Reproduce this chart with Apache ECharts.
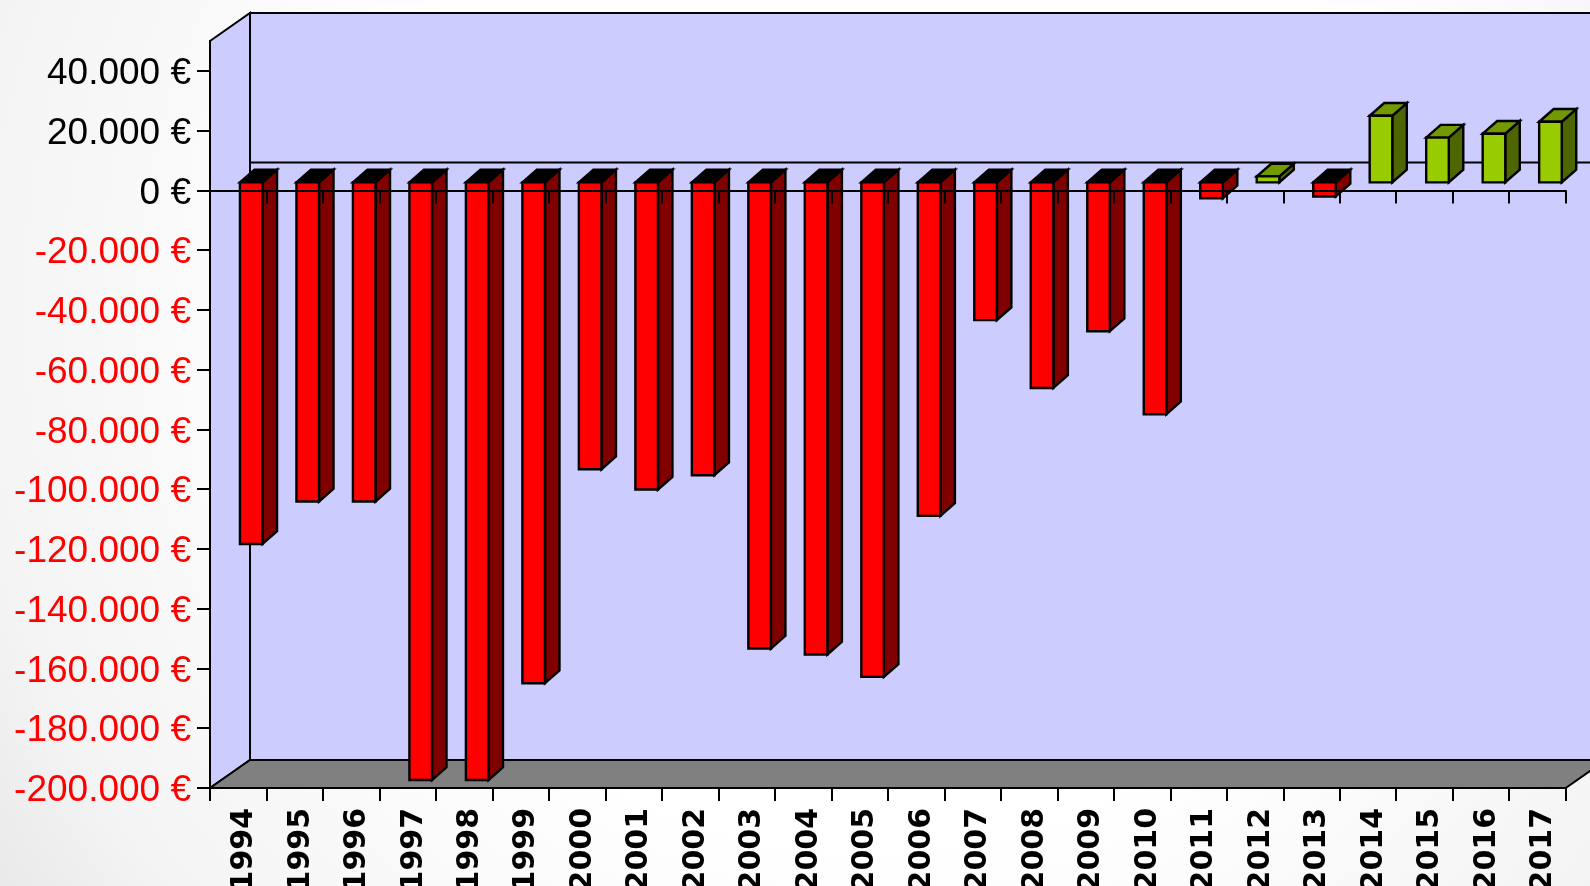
<!DOCTYPE html>
<html>
<head>
<meta charset="utf-8">
<script src="https://cdn.jsdelivr.net/npm/echarts@6/dist/echarts.min.js"></script>
<style>html,body{margin:0;padding:0;background:#fff;overflow:hidden}#c{width:1590px;height:886px}</style>
</head>
<body>
<div id="c"></div>
<script>
var years = ['1994','1995','1996','1997','1998','1999','2000','2001','2002','2003','2004','2005','2006','2007','2008','2009','2010','2011','2012','2013','2014','2015','2016','2017'];
var balance = [-121000,-106800,-106800,-200000,-200000,-167600,-96000,-102800,-98000,-156000,-158000,-165500,-111600,-46100,-68800,-49800,-77600,-5300,2000,-4700,22300,15000,16300,20300];
var yTicks = [-200000,-180000,-160000,-140000,-120000,-100000,-80000,-60000,-40000,-20000,0,20000,40000];

var wallDepth = [40,-28];   // depth of the chart box
var barOffset = [13,-8];    // bars stand this far behind the front plane
var barDepth = [14.5,-12.7];  // depth of each bar

function fmt(v){
  var s = String(Math.abs(v)).replace(/\B(?=(\d{3})+$)/g,'.');
  return (v<0?'-':'') + s + ' €';
}
function pts(a){return {points:a};}

function renderWalls(params, api){
  var cs = params.coordSys;
  var l = cs.x, r = cs.x+cs.width, t = cs.y, b = cs.y+cs.height;
  var dx = wallDepth[0], dy = wallDepth[1];
  var z0 = api.coord([0,0])[1];
  var line = {stroke:'#000',lineWidth:2};
  var wall = {fill:'#CCCCFF',stroke:'#000',lineWidth:2};
  return {type:'group',children:[
    {type:'polygon',shape:pts([[l+dx,t+dy],[r+dx,t+dy],[r+dx,b+dy],[l+dx,b+dy]]),style:wall},
    {type:'polygon',shape:pts([[l,t],[l+dx,t+dy],[l+dx,b+dy],[l,b]]),style:wall},
    {type:'polygon',shape:pts([[l,b],[l+dx,b+dy],[r+dx,b+dy],[r,b]]),style:{fill:'#808080',stroke:'#000',lineWidth:2}},
    {type:'line',shape:{x1:l+dx,y1:z0+dy,x2:r+dx,y2:z0+dy},style:line}
  ]};
}

function renderBar(params, api){
  var i = api.value(0), v = api.value(1);
  var w = api.size([1,0])[0]*0.4;
  var p0 = api.coord([i,0]), p1 = api.coord([i,v]);
  var x0 = p0[0]+barOffset[0]-w/2, x1 = x0+w;
  var y0 = p0[1]+barOffset[1], y1 = p1[1]+barOffset[1];
  var top = Math.min(y0,y1), bot = Math.max(y0,y1);
  var dx = barDepth[0], dy = barDepth[1];
  var neg = v<0;
  var c = neg ? {front:'#FF0000',top:'#000000',side:'#800000'} : {front:'#99CC00',top:'#739900',side:'#4D6600'};
  var s = {stroke:'#000',lineWidth:2.4,lineJoin:'miter'};
  return {type:'group',children:[
    {type:'polygon',shape:pts([[x1,top],[x1+dx,top+dy],[x1+dx,bot+dy],[x1,bot]]),style:Object.assign({fill:c.side},s)},
    {type:'polygon',shape:pts([[x0,top],[x0+dx,top+dy],[x1+dx,top+dy],[x1,top]]),style:Object.assign({fill:c.top},s)},
    {type:'polygon',shape:pts([[x0,top],[x1,top],[x1,bot],[x0,bot]]),style:Object.assign({fill:c.front},s)}
  ]};
}

var chart = echarts.init(document.getElementById('c'),null,{renderer:'canvas'});
var axisStyle = {lineStyle:{color:'#000',width:2}};
chart.setOption({
  animation:false,
  backgroundColor:{type:'radial',x:0.55,y:0.35,r:1.2,colorStops:[{offset:0,color:'#ffffff'},{offset:0.5,color:'#ffffff'},{offset:0.85,color:'#f4f4f4'},{offset:1,color:'#e8e8e8'}]},
  grid:{left:210,right:24.3,top:41,bottom:98,containLabel:false,outerBoundsMode:'none'},
  xAxis:[
    {type:'category',data:years,position:'bottom',z:10,
     axisLine:Object.assign({onZero:false},axisStyle),
     axisTick:{show:true,length:13,lineStyle:{color:'#000',width:2}},
     axisLabel:{interval:0,rotate:90,margin:20,hideOverlap:false,color:'#000',fontFamily:'DejaVu Sans',fontWeight:'bold',fontSize:30,verticalAlign:'top',lineHeight:12},
     splitLine:{show:false}},
    {type:'category',data:years,position:'bottom',z:10,
     axisLine:Object.assign({onZero:true},axisStyle),
     axisTick:{show:true,length:13,lineStyle:{color:'#000',width:2}},
     axisLabel:{show:false},splitLine:{show:false}}
  ],
  yAxis:{type:'value',min:-200000,max:50000,interval:20000,z:10,
     axisLine:{show:true,onZero:false,lineStyle:{color:'#000',width:2}},
     axisTick:{show:true,length:13,customValues:yTicks,lineStyle:{color:'#000',width:2}},
     axisLabel:{margin:19,customValues:yTicks,fontFamily:'Liberation Sans',fontSize:37,verticalAlign:'top',lineHeight:6,
       formatter:function(v){return fmt(v);},
       color:function(v){return Number(v)<0?'#FF0000':'#000000';}},
     splitLine:{show:false}},
  series:[
    {type:'custom',name:'walls',z:1,silent:true,clip:false,renderItem:renderWalls,data:[[0,0]],encode:{x:0,y:1}},
    {type:'custom',name:'Saldo',z:2,silent:true,clip:false,renderItem:renderBar,
     data:balance.map(function(v,i){return [i,v];}),encode:{x:0,y:1}}
  ]
});
</script>
</body>
</html>
